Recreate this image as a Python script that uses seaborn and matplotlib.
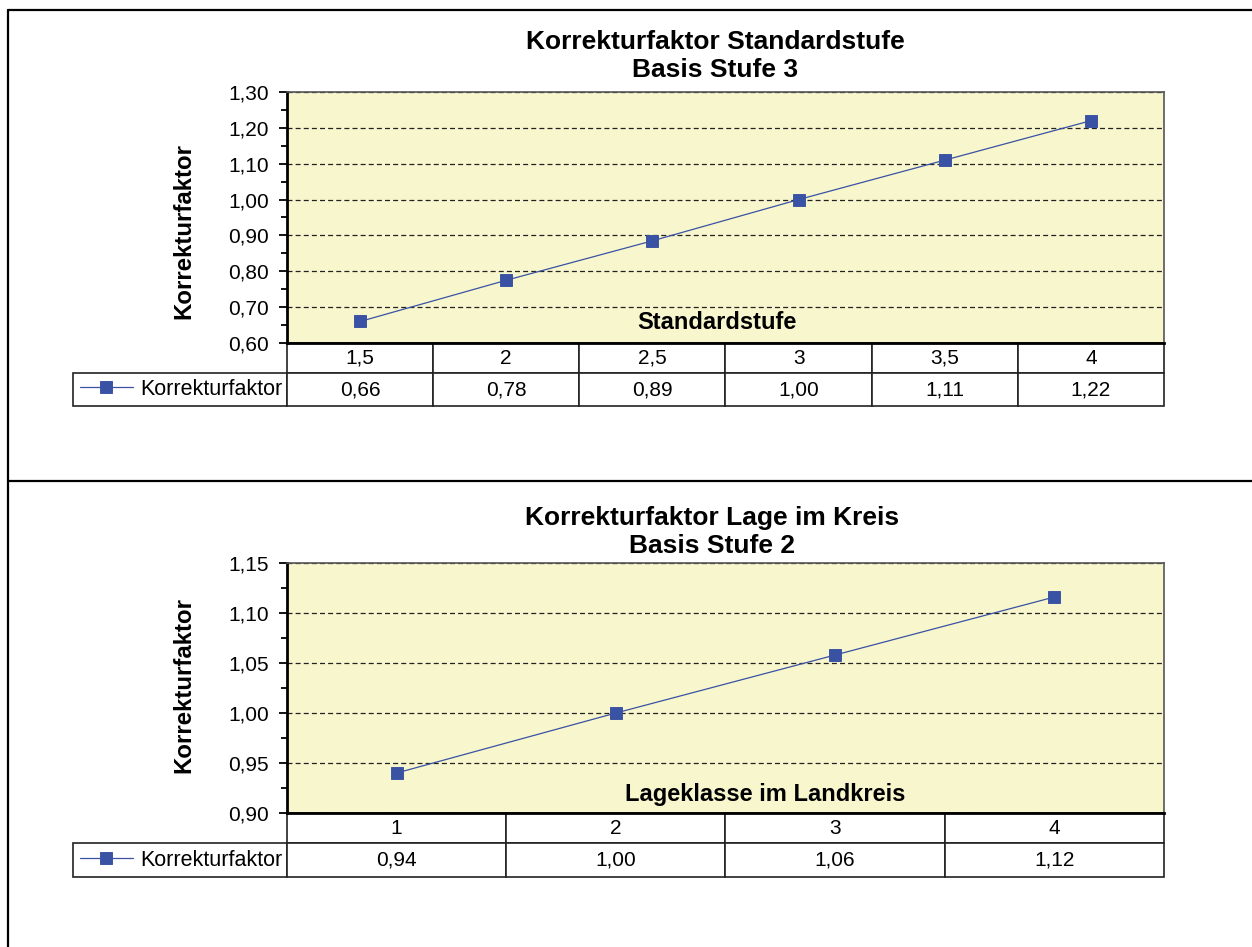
import numpy as np
import seaborn as sns
import matplotlib
matplotlib.use("Agg")
import matplotlib.pyplot as plt
from matplotlib.lines import Line2D
from matplotlib.ticker import MultipleLocator, FuncFormatter

# top chart: Standardstufe
stufe_labels = ["1,5", "2", "2,5", "3", "3,5", "4"]
stufe_faktor = [0.66, 0.775, 0.885, 1.00, 1.11, 1.22]

# bottom chart: Lage im Kreis
lage_labels = ["1", "2", "3", "4"]
lage_faktor = [0.94, 1.00, 1.058, 1.116]

sns.set_theme(style="white")
plt.rcParams["font.family"] = ["Liberation Sans", "DejaVu Sans"]
plt.rcParams["text.color"] = "black"
plt.rcParams["ytick.color"] = "black"
plt.rcParams["axes.labelcolor"] = "black"

BLUE = "#3A52A4"
YELLOW = "#F8F6CD"
W, H = 1252, 947

fig = plt.figure(figsize=(W / 100, H / 100), dpi=100)


def comma(v, _pos):
    return f"{v:.2f}".replace(".", ",")


def draw_chart(rect, labels, values, ylim, major, minor, title, xlabel,
               xlabel_pos, title_xy, ylabel_xy, row_h):
    ax = fig.add_axes(rect)
    sns.pointplot(x=labels, y=values, ax=ax, color=BLUE, markers="s",
                  linestyles="-", errorbar=None, markersize=9,
                  linewidth=0.9, label="Korrekturfaktor")
    ax.set_facecolor(YELLOW)
    ax.set_xlim(-0.5, len(labels) - 0.5)
    ax.set_ylim(*ylim)
    ax.yaxis.set_major_locator(MultipleLocator(major))
    ax.yaxis.set_minor_locator(MultipleLocator(minor))
    ax.yaxis.set_major_formatter(FuncFormatter(comma))
    ax.set_xticks([])
    ax.set_xlabel("")
    ax.set_ylabel("")
    ax.tick_params(axis="y", which="major", left=True, direction="out",
                   length=6, width=1.3, labelsize=15, pad=7, colors="black")
    ax.tick_params(axis="y", which="minor", left=True, direction="out",
                   length=4, width=1.3, colors="black")
    ax.grid(axis="y", which="major", color="#222222", linestyle=(0, (4, 2.5)),
            linewidth=0.9)
    for side in ["left", "bottom"]:
        ax.spines[side].set_color("black")
        ax.spines[side].set_linewidth(2)
    for side in ["top", "right"]:
        ax.spines[side].set_color("#555555")
        ax.spines[side].set_linewidth(1.2)

    ax.text(xlabel_pos[0], xlabel_pos[1], xlabel, transform=ax.transAxes,
            ha="center", va="center", fontsize=17, fontweight="bold")

    # data table below the axis, first column holds the legend
    lab_w = 214 / 877
    n = len(labels)
    cell_text = [[""] + list(labels), [""] + [comma(v, None) for v in values]]
    tbl = ax.table(cellText=cell_text, cellLoc="center",
                   colWidths=[lab_w] + [1 / n] * n,
                   bbox=[-lab_w, -(row_h[0] + row_h[1]), 1 + lab_w,
                         row_h[0] + row_h[1]])
    tbl.auto_set_font_size(False)
    for (r, c), cell in tbl.get_celld().items():
        cell.set_edgecolor("#222222")
        cell.set_linewidth(1.2)
        cell.set_facecolor("white")
        cell.get_text().set_fontsize(15)
        cell.get_text().set_color("black")
        cell.set_height(row_h[r])
        if r == 0 and c == 0:
            cell.visible_edges = "open"
            cell.set_facecolor("none")

    ax.legend(loc="center left",
              bbox_to_anchor=((80 - 287) / 877, -row_h[0] - row_h[1] / 2),
              frameon=False, fontsize=15.5, handlelength=2.45,
              handletextpad=0.33, borderpad=0, borderaxespad=0,
              labelcolor="black")

    fig.text(title_xy[0], title_xy[1], title, ha="center", va="center",
             fontsize=19, fontweight="bold", linespacing=1.22)
    fig.text(ylabel_xy[0], ylabel_xy[1], "Korrekturfaktor", rotation=90,
             ha="center", va="center", fontsize=17.3, fontweight="bold")
    return ax


draw_chart([287 / W, 1 - 343 / H, 877 / W, 251 / H], stufe_labels, stufe_faktor,
           (0.6, 1.3), 0.1, 0.05,
           "Korrekturfaktor Standardstufe\nBasis Stufe 3", "Standardstufe",
           (0.49, 0.08), (715 / W, 1 - 56 / H), (184 / W, 1 - 231 / H),
           (30 / 251, 33 / 251))

draw_chart([287 / W, 1 - 813 / H, 877 / W, 250 / H], lage_labels, lage_faktor,
           (0.9, 1.15), 0.05, 0.025,
           "Korrekturfaktor Lage im Kreis\nBasis Stufe 2", "Lageklasse im Landkreis",
           (0.545, 0.072), (712 / W, 1 - 532 / H), (184 / W, 1 - 685 / H),
           (30 / 250, 34 / 250))

# outer frame of the two chart blocks
fig.add_artist(Line2D([8 / W, 1], [1 - 10 / H, 1 - 10 / H], color="black", lw=1.6))
fig.add_artist(Line2D([8 / W, 1], [1 - 481 / H, 1 - 481 / H], color="black", lw=1.6))
fig.add_artist(Line2D([8 / W, 8 / W], [0, 1 - 10 / H], color="black", lw=1.6))

fig.savefig("out.png", dpi=100)
